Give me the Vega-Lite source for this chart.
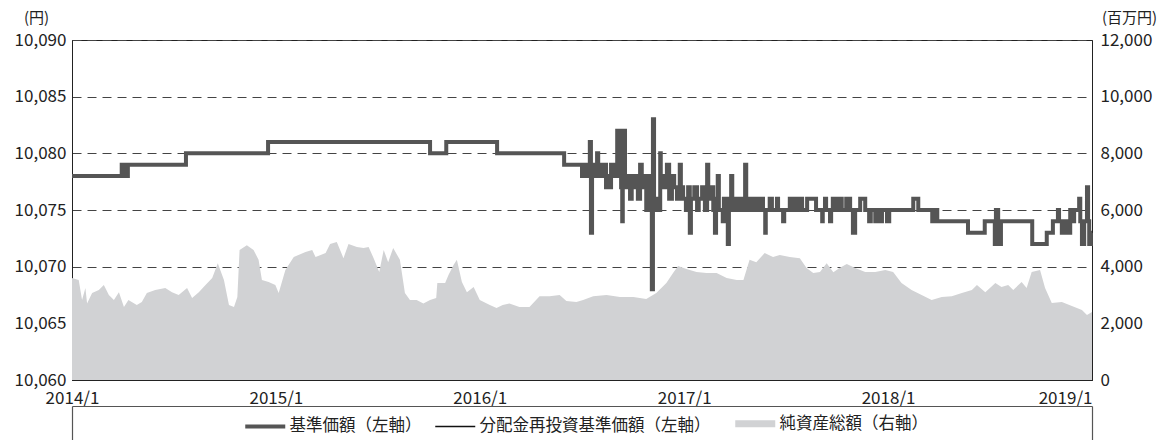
{
  "$schema": "https://vega.github.io/schema/vega-lite/v6.json",
  "width": 1020,
  "height": 340,
  "autosize": {"type": "none"},
  "padding": {"left": 72, "top": 40, "right": 70, "bottom": 60},
  "background": "white",
  "config": {
    "font": "Noto Sans CJK JP",
    "view": {"stroke": "#222", "strokeWidth": 1},
    "axis": {
      "labelFont": "Noto Sans CJK JP",
      "labelFontSize": 17,
      "labelColor": "#222",
      "domainColor": "#222",
      "tickColor": "#222",
      "titleFont": "Noto Sans CJK JP",
      "titleFontWeight": "normal",
      "titleColor": "#222"
    },
    "legend": {
      "title": null,
      "orient": "none",
      "legendX": 185,
      "legendY": 375,
      "direction": "horizontal",
      "symbolType": "M-20,0H20",
      "symbolSize": 4,
      "labelFont": "Noto Sans CJK JP",
      "labelFontSize": 16.5,
      "labelColor": "#222",
      "labelOffset": 16,
      "labelLimit": 400,
      "columnPadding": 10
    }
  },
  "datasets": {
    "assets": [
      {"date": "2014-01-01", "assets": 3600},
      {"date": "2014-01-13", "assets": 3530},
      {"date": "2014-01-19", "assets": 2820},
      {"date": "2014-01-25", "assets": 3250},
      {"date": "2014-01-28", "assets": 2700},
      {"date": "2014-02-06", "assets": 3070},
      {"date": "2014-02-18", "assets": 3180},
      {"date": "2014-02-27", "assets": 3350},
      {"date": "2014-03-08", "assets": 3000},
      {"date": "2014-03-17", "assets": 2820},
      {"date": "2014-03-26", "assets": 3100},
      {"date": "2014-04-04", "assets": 2580},
      {"date": "2014-04-12", "assets": 2820},
      {"date": "2014-04-27", "assets": 2650},
      {"date": "2014-05-06", "assets": 2750},
      {"date": "2014-05-15", "assets": 3070},
      {"date": "2014-05-30", "assets": 3180},
      {"date": "2014-06-17", "assets": 3250},
      {"date": "2014-06-29", "assets": 3100},
      {"date": "2014-07-11", "assets": 3000},
      {"date": "2014-07-26", "assets": 3250},
      {"date": "2014-08-04", "assets": 2890},
      {"date": "2014-08-16", "assets": 3100},
      {"date": "2014-08-28", "assets": 3350},
      {"date": "2014-09-09", "assets": 3600},
      {"date": "2014-09-19", "assets": 4120},
      {"date": "2014-09-30", "assets": 3530},
      {"date": "2014-10-09", "assets": 2650},
      {"date": "2014-10-18", "assets": 2580},
      {"date": "2014-10-24", "assets": 2930},
      {"date": "2014-10-28", "assets": 4590},
      {"date": "2014-11-10", "assets": 4760},
      {"date": "2014-11-22", "assets": 4590},
      {"date": "2014-12-01", "assets": 4240},
      {"date": "2014-12-07", "assets": 3530},
      {"date": "2014-12-19", "assets": 3460},
      {"date": "2014-12-31", "assets": 3350},
      {"date": "2015-01-06", "assets": 3070},
      {"date": "2015-01-18", "assets": 3880},
      {"date": "2015-02-02", "assets": 4340},
      {"date": "2015-02-23", "assets": 4520},
      {"date": "2015-03-07", "assets": 4590},
      {"date": "2015-03-13", "assets": 4340},
      {"date": "2015-03-31", "assets": 4480},
      {"date": "2015-04-08", "assets": 4800},
      {"date": "2015-04-20", "assets": 4870},
      {"date": "2015-05-02", "assets": 4300},
      {"date": "2015-05-11", "assets": 4800},
      {"date": "2015-05-26", "assets": 4690},
      {"date": "2015-06-07", "assets": 4660},
      {"date": "2015-06-16", "assets": 4690},
      {"date": "2015-06-25", "assets": 4300},
      {"date": "2015-07-05", "assets": 3810},
      {"date": "2015-07-13", "assets": 4590},
      {"date": "2015-07-21", "assets": 4160},
      {"date": "2015-07-30", "assets": 4660},
      {"date": "2015-08-11", "assets": 4240},
      {"date": "2015-08-20", "assets": 3070},
      {"date": "2015-08-29", "assets": 2820},
      {"date": "2015-09-10", "assets": 2820},
      {"date": "2015-09-22", "assets": 2700},
      {"date": "2015-10-04", "assets": 2820},
      {"date": "2015-10-15", "assets": 2890},
      {"date": "2015-10-17", "assets": 3420},
      {"date": "2015-10-31", "assets": 3420},
      {"date": "2015-11-06", "assets": 3710},
      {"date": "2015-11-15", "assets": 4060},
      {"date": "2015-11-21", "assets": 4240},
      {"date": "2015-11-30", "assets": 3460},
      {"date": "2015-12-09", "assets": 3100},
      {"date": "2015-12-21", "assets": 3280},
      {"date": "2016-01-01", "assets": 2820},
      {"date": "2016-01-19", "assets": 2650},
      {"date": "2016-01-31", "assets": 2540},
      {"date": "2016-02-11", "assets": 2650},
      {"date": "2016-02-23", "assets": 2700},
      {"date": "2016-03-12", "assets": 2580},
      {"date": "2016-03-30", "assets": 2580},
      {"date": "2016-04-17", "assets": 2960},
      {"date": "2016-05-05", "assets": 2960},
      {"date": "2016-05-23", "assets": 3000},
      {"date": "2016-06-04", "assets": 2790},
      {"date": "2016-06-22", "assets": 2750},
      {"date": "2016-07-04", "assets": 2820},
      {"date": "2016-07-22", "assets": 2960},
      {"date": "2016-08-15", "assets": 3000},
      {"date": "2016-09-08", "assets": 2930},
      {"date": "2016-10-02", "assets": 2930},
      {"date": "2016-10-25", "assets": 2860},
      {"date": "2016-11-12", "assets": 3070},
      {"date": "2016-11-30", "assets": 3420},
      {"date": "2016-12-12", "assets": 3780},
      {"date": "2016-12-21", "assets": 4020},
      {"date": "2017-01-05", "assets": 3920},
      {"date": "2017-01-23", "assets": 3810},
      {"date": "2017-02-10", "assets": 3780},
      {"date": "2017-02-28", "assets": 3780},
      {"date": "2017-03-18", "assets": 3600},
      {"date": "2017-04-05", "assets": 3530},
      {"date": "2017-04-17", "assets": 3530},
      {"date": "2017-04-28", "assets": 4240},
      {"date": "2017-05-10", "assets": 4160},
      {"date": "2017-05-25", "assets": 4480},
      {"date": "2017-06-09", "assets": 4340},
      {"date": "2017-06-21", "assets": 4410},
      {"date": "2017-07-09", "assets": 4340},
      {"date": "2017-07-27", "assets": 4300},
      {"date": "2017-08-08", "assets": 3950},
      {"date": "2017-08-20", "assets": 3780},
      {"date": "2017-09-01", "assets": 3810},
      {"date": "2017-09-13", "assets": 4120},
      {"date": "2017-09-25", "assets": 3800},
      {"date": "2017-10-06", "assets": 3950},
      {"date": "2017-10-19", "assets": 4090},
      {"date": "2017-11-03", "assets": 3950},
      {"date": "2017-11-21", "assets": 3810},
      {"date": "2017-12-09", "assets": 3810},
      {"date": "2017-12-27", "assets": 3880},
      {"date": "2018-01-10", "assets": 3810},
      {"date": "2018-01-25", "assets": 3420},
      {"date": "2018-02-12", "assets": 3180},
      {"date": "2018-03-02", "assets": 3000},
      {"date": "2018-03-20", "assets": 2820},
      {"date": "2018-04-07", "assets": 2930},
      {"date": "2018-04-25", "assets": 2960},
      {"date": "2018-05-13", "assets": 3070},
      {"date": "2018-05-31", "assets": 3180},
      {"date": "2018-06-09", "assets": 3350},
      {"date": "2018-06-24", "assets": 3100},
      {"date": "2018-07-12", "assets": 3420},
      {"date": "2018-07-23", "assets": 3280},
      {"date": "2018-08-04", "assets": 3350},
      {"date": "2018-08-13", "assets": 3180},
      {"date": "2018-08-28", "assets": 3460},
      {"date": "2018-09-06", "assets": 3250},
      {"date": "2018-09-15", "assets": 3810},
      {"date": "2018-09-30", "assets": 3880},
      {"date": "2018-10-09", "assets": 3250},
      {"date": "2018-10-21", "assets": 2720},
      {"date": "2018-11-08", "assets": 2750},
      {"date": "2018-11-26", "assets": 2610},
      {"date": "2018-12-14", "assets": 2470},
      {"date": "2018-12-23", "assets": 2290},
      {"date": "2019-01-01", "assets": 2400}
    ],
    "nav": [
      {"date": "2014-01-01", "nav": 10078},
      {"date": "2014-03-31", "nav": 10079},
      {"date": "2014-04-04", "nav": 10078},
      {"date": "2014-04-11", "nav": 10079},
      {"date": "2014-07-24", "nav": 10080},
      {"date": "2014-12-18", "nav": 10081},
      {"date": "2015-10-04", "nav": 10080},
      {"date": "2015-11-02", "nav": 10081},
      {"date": "2016-02-01", "nav": 10080},
      {"date": "2016-05-31", "nav": 10079},
      {"date": "2016-07-02", "nav": 10078},
      {"date": "2016-07-07", "nav": 10079},
      {"date": "2016-07-13", "nav": 10078},
      {"date": "2016-07-16", "nav": 10081},
      {"date": "2016-07-18", "nav": 10073},
      {"date": "2016-07-20", "nav": 10079},
      {"date": "2016-07-23", "nav": 10078},
      {"date": "2016-07-29", "nav": 10080},
      {"date": "2016-07-31", "nav": 10079},
      {"date": "2016-08-03", "nav": 10078},
      {"date": "2016-08-09", "nav": 10079},
      {"date": "2016-08-14", "nav": 10077},
      {"date": "2016-08-18", "nav": 10078},
      {"date": "2016-08-21", "nav": 10077},
      {"date": "2016-08-23", "nav": 10079},
      {"date": "2016-08-28", "nav": 10078},
      {"date": "2016-09-03", "nav": 10082},
      {"date": "2016-09-04", "nav": 10079},
      {"date": "2016-09-08", "nav": 10082},
      {"date": "2016-09-10", "nav": 10077},
      {"date": "2016-09-12", "nav": 10074},
      {"date": "2016-09-13", "nav": 10078},
      {"date": "2016-09-15", "nav": 10082},
      {"date": "2016-09-17", "nav": 10077},
      {"date": "2016-09-22", "nav": 10078},
      {"date": "2016-09-26", "nav": 10076},
      {"date": "2016-09-29", "nav": 10078},
      {"date": "2016-10-03", "nav": 10077},
      {"date": "2016-10-07", "nav": 10078},
      {"date": "2016-10-10", "nav": 10076},
      {"date": "2016-10-14", "nav": 10079},
      {"date": "2016-10-17", "nav": 10077},
      {"date": "2016-10-21", "nav": 10078},
      {"date": "2016-10-25", "nav": 10075},
      {"date": "2016-10-28", "nav": 10078},
      {"date": "2016-11-01", "nav": 10077},
      {"date": "2016-11-04", "nav": 10068},
      {"date": "2016-11-06", "nav": 10083},
      {"date": "2016-11-08", "nav": 10076},
      {"date": "2016-11-13", "nav": 10075},
      {"date": "2016-11-19", "nav": 10080},
      {"date": "2016-11-20", "nav": 10078},
      {"date": "2016-11-26", "nav": 10077},
      {"date": "2016-12-01", "nav": 10079},
      {"date": "2016-12-05", "nav": 10076},
      {"date": "2016-12-10", "nav": 10078},
      {"date": "2016-12-14", "nav": 10077},
      {"date": "2016-12-19", "nav": 10076},
      {"date": "2016-12-24", "nav": 10079},
      {"date": "2016-12-26", "nav": 10077},
      {"date": "2016-12-30", "nav": 10076},
      {"date": "2017-01-04", "nav": 10075},
      {"date": "2017-01-08", "nav": 10077},
      {"date": "2017-01-11", "nav": 10073},
      {"date": "2017-01-13", "nav": 10076},
      {"date": "2017-01-19", "nav": 10077},
      {"date": "2017-01-24", "nav": 10075},
      {"date": "2017-01-27", "nav": 10076},
      {"date": "2017-02-02", "nav": 10077},
      {"date": "2017-02-07", "nav": 10075},
      {"date": "2017-02-11", "nav": 10079},
      {"date": "2017-02-13", "nav": 10076},
      {"date": "2017-02-18", "nav": 10077},
      {"date": "2017-02-22", "nav": 10075},
      {"date": "2017-02-25", "nav": 10073},
      {"date": "2017-02-27", "nav": 10076},
      {"date": "2017-03-02", "nav": 10078},
      {"date": "2017-03-04", "nav": 10075},
      {"date": "2017-03-11", "nav": 10074},
      {"date": "2017-03-13", "nav": 10076},
      {"date": "2017-03-20", "nav": 10072},
      {"date": "2017-03-22", "nav": 10076},
      {"date": "2017-03-26", "nav": 10078},
      {"date": "2017-03-28", "nav": 10075},
      {"date": "2017-04-02", "nav": 10076},
      {"date": "2017-04-07", "nav": 10075},
      {"date": "2017-04-13", "nav": 10076},
      {"date": "2017-04-18", "nav": 10075},
      {"date": "2017-04-20", "nav": 10079},
      {"date": "2017-04-22", "nav": 10075},
      {"date": "2017-04-29", "nav": 10076},
      {"date": "2017-05-04", "nav": 10075},
      {"date": "2017-05-08", "nav": 10076},
      {"date": "2017-05-10", "nav": 10075},
      {"date": "2017-05-17", "nav": 10076},
      {"date": "2017-05-22", "nav": 10075},
      {"date": "2017-05-26", "nav": 10073},
      {"date": "2017-05-27", "nav": 10075},
      {"date": "2017-06-03", "nav": 10076},
      {"date": "2017-06-07", "nav": 10075},
      {"date": "2017-06-16", "nav": 10076},
      {"date": "2017-06-18", "nav": 10075},
      {"date": "2017-06-27", "nav": 10074},
      {"date": "2017-06-29", "nav": 10075},
      {"date": "2017-07-09", "nav": 10076},
      {"date": "2017-07-11", "nav": 10075},
      {"date": "2017-07-18", "nav": 10076},
      {"date": "2017-07-22", "nav": 10075},
      {"date": "2017-07-27", "nav": 10076},
      {"date": "2017-07-31", "nav": 10075},
      {"date": "2017-08-09", "nav": 10076},
      {"date": "2017-08-25", "nav": 10075},
      {"date": "2017-09-05", "nav": 10074},
      {"date": "2017-09-06", "nav": 10075},
      {"date": "2017-09-10", "nav": 10076},
      {"date": "2017-09-12", "nav": 10075},
      {"date": "2017-09-19", "nav": 10074},
      {"date": "2017-09-21", "nav": 10075},
      {"date": "2017-09-24", "nav": 10076},
      {"date": "2017-09-28", "nav": 10075},
      {"date": "2017-10-03", "nav": 10076},
      {"date": "2017-10-10", "nav": 10075},
      {"date": "2017-10-18", "nav": 10076},
      {"date": "2017-10-25", "nav": 10075},
      {"date": "2017-10-30", "nav": 10073},
      {"date": "2017-11-03", "nav": 10075},
      {"date": "2017-11-12", "nav": 10076},
      {"date": "2017-11-21", "nav": 10075},
      {"date": "2017-11-28", "nav": 10074},
      {"date": "2017-12-01", "nav": 10075},
      {"date": "2017-12-09", "nav": 10074},
      {"date": "2017-12-12", "nav": 10075},
      {"date": "2017-12-18", "nav": 10074},
      {"date": "2017-12-21", "nav": 10075},
      {"date": "2017-12-30", "nav": 10074},
      {"date": "2018-01-03", "nav": 10075},
      {"date": "2018-02-15", "nav": 10076},
      {"date": "2018-02-24", "nav": 10075},
      {"date": "2018-03-21", "nav": 10074},
      {"date": "2018-03-26", "nav": 10075},
      {"date": "2018-03-30", "nav": 10074},
      {"date": "2018-05-24", "nav": 10073},
      {"date": "2018-06-23", "nav": 10074},
      {"date": "2018-07-11", "nav": 10072},
      {"date": "2018-07-13", "nav": 10075},
      {"date": "2018-07-17", "nav": 10074},
      {"date": "2018-07-20", "nav": 10072},
      {"date": "2018-07-22", "nav": 10074},
      {"date": "2018-09-16", "nav": 10072},
      {"date": "2018-10-12", "nav": 10073},
      {"date": "2018-10-23", "nav": 10074},
      {"date": "2018-11-01", "nav": 10075},
      {"date": "2018-11-03", "nav": 10074},
      {"date": "2018-11-08", "nav": 10073},
      {"date": "2018-11-12", "nav": 10074},
      {"date": "2018-11-17", "nav": 10073},
      {"date": "2018-11-23", "nav": 10075},
      {"date": "2018-11-28", "nav": 10074},
      {"date": "2018-11-30", "nav": 10075},
      {"date": "2018-12-09", "nav": 10076},
      {"date": "2018-12-11", "nav": 10074},
      {"date": "2018-12-14", "nav": 10072},
      {"date": "2018-12-18", "nav": 10074},
      {"date": "2018-12-23", "nav": 10077},
      {"date": "2018-12-25", "nav": 10074},
      {"date": "2018-12-27", "nav": 10072},
      {"date": "2018-12-30", "nav": 10073},
      {"date": "2019-01-01", "nav": 10073}
    ]
  },
  "layer": [
    {
      "data": {"name": "assets"},
      "mark": {"type": "area", "interpolate": "linear", "opacity": 1},
      "encoding": {
        "x": {
          "field": "date",
          "type": "temporal",
          "scale": {
            "type": "utc",
            "domain": [
              {"year": 2014, "month": 1, "date": 1, "utc": true},
              {"year": 2019, "month": 1, "date": 1, "utc": true}
            ]
          },
          "axis": {
            "orient": "bottom",
            "title": null,
            "grid": false,
            "values": [
              {"year": 2014, "month": 1, "date": 1, "utc": true},
              {"year": 2015, "month": 1, "date": 1, "utc": true},
              {"year": 2016, "month": 1, "date": 1, "utc": true},
              {"year": 2017, "month": 1, "date": 1, "utc": true},
              {"year": 2018, "month": 1, "date": 1, "utc": true},
              {"year": 2019, "month": 1, "date": 1, "utc": true}
            ],
            "labelExpr": "utcFormat(datum.value, '%Y') + '/' + (utcmonth(datum.value) + 1)",
            "labelAlign": {"condition": {"test": "utcyear(datum.value) >= 2019", "value": "right"}, "value": "center"},
            "labelDx": {"condition": {"test": "utcyear(datum.value) >= 2019", "value": 3}, "value": 0},
            "tickSize": -6,
            "labelPadding": 16,
            "labelFlush": false,
            "labelOverlap": false,
            "offset": 0
          }
        },
        "y": {
          "field": "assets",
          "type": "quantitative",
          "scale": {"domain": [0, 12000], "nice": false, "zero": true},
          "axis": {
            "orient": "right",
            "values": [0, 2000, 4000, 6000, 8000, 10000, 12000],
            "format": ",d",
            "grid": false,
            "ticks": false,
            "labelPadding": 8,
            "title": "(百万円)",
            "titleAngle": 0,
            "titleAlign": "center",
            "titleBaseline": "middle",
            "titleX": 37,
            "titleY": -23,
            "titleFontSize": 15
          }
        },
        "color": {
          "datum": "純資産総額（右軸）",
          "type": "nominal",
          "scale": {
            "domain": ["基準価額（左軸）", "分配金再投資基準価額（左軸）", "純資産総額（右軸）"],
            "range": ["#555555", "#111111", "#d1d2d4"]
          },
          "legend": {
            "encode": {
              "symbols": {
                "update": {
                  "stroke": {"scale": "color", "field": "value"},
                  "strokeWidth": {"signal": "datum.index === 0 ? 4 : datum.index === 2 ? 7 : 1.5"},
                  "opacity": {"value": 1}
                }
              }
            }
          }
        }
      }
    },
    {
      "layer": [
        {
          "data": {"name": "nav"},
          "mark": {"type": "line", "interpolate": "step-after", "strokeWidth": 1.2},
          "encoding": {
            "x": {
              "field": "date",
              "type": "temporal",
              "scale": {"type": "utc"},
              "axis": {
                "orient": "bottom",
                "title": null,
                "grid": false,
                "labels": false,
                "values": [
                  {"year": 2014, "month": 1, "date": 1, "utc": true},
                  {"year": 2019, "month": 1, "date": 1, "utc": true}
                ],
                "offset": 26,
                "tickSize": 40,
                "tickColor": "#555",
                "domainColor": "#555",
                "tickWidth": 1.2,
                "domainWidth": 1.2
              }
            },
            "y": {
              "field": "nav",
              "type": "quantitative",
              "scale": {"domain": [10060, 10090], "nice": false, "zero": false},
              "axis": {
                "orient": "left",
                "values": [10060, 10065, 10070, 10075, 10080, 10085, 10090],
                "format": ",d",
                "grid": true,
                "gridDash": [9, 6],
                "gridColor": "#444",
                "gridWidth": 1,
                "ticks": false,
                "labelPadding": 6,
                "title": "(円)",
                "titleAngle": 0,
                "titleAlign": "center",
                "titleBaseline": "middle",
                "titleX": -36,
                "titleY": -23,
                "titleFontSize": 15
              }
            },
            "color": {
              "datum": "分配金再投資基準価額（左軸）",
              "type": "nominal",
              "legend": {
                "encode": {
                  "symbols": {
                    "update": {
                      "stroke": {"scale": "color", "field": "value"},
                      "strokeWidth": {"signal": "datum.index === 0 ? 4 : datum.index === 2 ? 7 : 1.5"},
                      "opacity": {"value": 1}
                    }
                  }
                }
              }
            }
          }
        },
        {
          "data": {"name": "nav"},
          "mark": {"type": "line", "interpolate": "step-after", "strokeWidth": 4},
          "encoding": {
            "x": {"field": "date", "type": "temporal", "scale": {"type": "utc"}},
            "y": {"field": "nav", "type": "quantitative"},
            "color": {
              "datum": "基準価額（左軸）",
              "type": "nominal",
              "legend": {
                "encode": {
                  "symbols": {
                    "update": {
                      "stroke": {"scale": "color", "field": "value"},
                      "strokeWidth": {"signal": "datum.index === 0 ? 4 : datum.index === 2 ? 7 : 1.5"},
                      "opacity": {"value": 1}
                    }
                  }
                }
              }
            }
          }
        }
      ]
    }
  ],
  "resolve": {"scale": {"y": "independent"}, "axis": {"x": "independent"}}
}
